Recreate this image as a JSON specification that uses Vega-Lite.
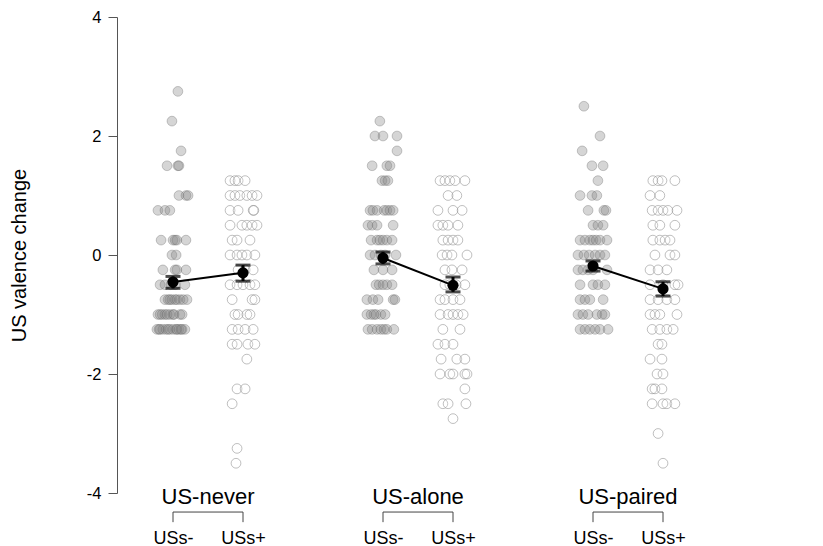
{
  "$schema": "https://vega.github.io/schema/vega-lite/v6.json",
  "width": 748,
  "height": 476,
  "autosize": {"type": "none"},
  "padding": {"left": 75, "top": 17, "right": 0, "bottom": 53},
  "background": "white",
  "config": {
    "font": "Liberation Sans",
    "view": {"stroke": null},
    "axis": {"labelFont": "Liberation Sans", "titleFont": "Liberation Sans", "grid": false},
    "scale": {"pointPadding": 0}
  },
  "datasets": {
    "pts": [
      {"k":"N-","v":2.75,"j":0.14},{"k":"N-","v":2.25,"j":-0.03},{"k":"N-","v":1.75,"j":0.23},
      {"k":"N-","v":1.5,"j":-0.17},{"k":"N-","v":1.5,"j":0.14},{"k":"N-","v":1.5,"j":0.17},
      {"k":"N-","v":1,"j":0.17},{"k":"N-","v":1,"j":0.37},{"k":"N-","v":1,"j":0.43},
      {"k":"N-","v":0.75,"j":-0.43},{"k":"N-","v":0.75,"j":-0.23},{"k":"N-","v":0.75,"j":-0.09},
      {"k":"N-","v":0.25,"j":-0.34},{"k":"N-","v":0.25,"j":0},{"k":"N-","v":0.25,"j":0.06},{"k":"N-","v":0.25,"j":0.11},{"k":"N-","v":0.25,"j":0.37},
      {"k":"N-","v":0,"j":-0.03},{"k":"N-","v":0,"j":0.09},
      {"k":"N-","v":-0.25,"j":-0.29},{"k":"N-","v":-0.25,"j":0.06},{"k":"N-","v":-0.25,"j":0.11},{"k":"N-","v":-0.25,"j":0.37},
      {"k":"N-","v":-0.5,"j":-0.37},{"k":"N-","v":-0.5,"j":-0.23},{"k":"N-","v":-0.5,"j":-0.06},{"k":"N-","v":-0.5,"j":0.06},{"k":"N-","v":-0.5,"j":0.34},
      {"k":"N-","v":-0.75,"j":-0.23},{"k":"N-","v":-0.75,"j":-0.14},{"k":"N-","v":-0.75,"j":-0.03},{"k":"N-","v":-0.75,"j":0.11},{"k":"N-","v":-0.75,"j":0.2},{"k":"N-","v":-0.75,"j":0.29},{"k":"N-","v":-0.75,"j":0.4},{"k":"N-","v":-0.75,"j":0.06},{"k":"N-","v":-0.75,"j":-0.09},
      {"k":"N-","v":-1,"j":-0.43},{"k":"N-","v":-1,"j":-0.31},{"k":"N-","v":-1,"j":-0.23},{"k":"N-","v":-1,"j":-0.09},{"k":"N-","v":-1,"j":0},{"k":"N-","v":-1,"j":0.2},{"k":"N-","v":-1,"j":0.26},{"k":"N-","v":-1,"j":-0.37},{"k":"N-","v":-1,"j":-0.17},{"k":"N-","v":-1,"j":0.03},
      {"k":"N-","v":-1.25,"j":-0.46},{"k":"N-","v":-1.25,"j":-0.37},{"k":"N-","v":-1.25,"j":-0.29},{"k":"N-","v":-1.25,"j":-0.2},{"k":"N-","v":-1.25,"j":-0.09},{"k":"N-","v":-1.25,"j":0},{"k":"N-","v":-1.25,"j":0.09},{"k":"N-","v":-1.25,"j":0.17},{"k":"N-","v":-1.25,"j":0.26},{"k":"N-","v":-1.25,"j":0.34},{"k":"N-","v":-1.25,"j":-0.4},{"k":"N-","v":-1.25,"j":-0.14},{"k":"N-","v":-1.25,"j":0.11},{"k":"N-","v":-1.25,"j":0.23},

      {"k":"N+","v":1.25,"j":-0.37},{"k":"N+","v":1.25,"j":-0.23},{"k":"N+","v":1.25,"j":-0.14},{"k":"N+","v":1.25,"j":0.06},
      {"k":"N+","v":1,"j":-0.37},{"k":"N+","v":1,"j":-0.23},{"k":"N+","v":1,"j":-0.09},{"k":"N+","v":1,"j":0.11},{"k":"N+","v":1,"j":0.26},{"k":"N+","v":1,"j":0.4},
      {"k":"N+","v":0.75,"j":-0.37},{"k":"N+","v":0.75,"j":-0.14},{"k":"N+","v":0.75,"j":0.29},{"k":"N+","v":0.75,"j":0.31},
      {"k":"N+","v":0.5,"j":-0.37},{"k":"N+","v":0.5,"j":-0.03},{"k":"N+","v":0.5,"j":0.11},{"k":"N+","v":0.5,"j":0.26},{"k":"N+","v":0.5,"j":0.4},
      {"k":"N+","v":0.25,"j":-0.31},{"k":"N+","v":0.25,"j":-0.17},{"k":"N+","v":0.25,"j":0.2},
      {"k":"N+","v":0,"j":-0.37},{"k":"N+","v":0,"j":-0.17},{"k":"N+","v":0,"j":-0.03},{"k":"N+","v":0,"j":0.11},{"k":"N+","v":0,"j":0.34},
      {"k":"N+","v":-0.25,"j":-0.14},{"k":"N+","v":-0.25,"j":0.06},{"k":"N+","v":-0.25,"j":0.29},
      {"k":"N+","v":-0.5,"j":-0.37},{"k":"N+","v":-0.5,"j":-0.17},{"k":"N+","v":-0.5,"j":0},{"k":"N+","v":-0.5,"j":0.2},{"k":"N+","v":-0.5,"j":0.34},
      {"k":"N+","v":-0.75,"j":-0.31},{"k":"N+","v":-0.75,"j":0.26},{"k":"N+","v":-0.75,"j":0.34},
      {"k":"N+","v":-1,"j":-0.23},{"k":"N+","v":-1,"j":-0.14},{"k":"N+","v":-1,"j":0.11},{"k":"N+","v":-1,"j":0.2},
      {"k":"N+","v":-1.25,"j":-0.31},{"k":"N+","v":-1.25,"j":-0.14},{"k":"N+","v":-1.25,"j":0.06},{"k":"N+","v":-1.25,"j":0.29},
      {"k":"N+","v":-1.5,"j":-0.31},{"k":"N+","v":-1.5,"j":-0.17},{"k":"N+","v":-1.5,"j":0.14},{"k":"N+","v":-1.5,"j":0.34},
      {"k":"N+","v":-1.75,"j":0.11},
      {"k":"N+","v":-2.25,"j":-0.17},{"k":"N+","v":-2.25,"j":0.06},
      {"k":"N+","v":-2.5,"j":-0.31},
      {"k":"N+","v":-3.25,"j":-0.17},
      {"k":"N+","v":-3.5,"j":-0.2},

      {"k":"A-","v":2.25,"j":-0.09},
      {"k":"A-","v":2,"j":-0.23},{"k":"A-","v":2,"j":0},{"k":"A-","v":2,"j":0.4},
      {"k":"A-","v":1.75,"j":0.4},
      {"k":"A-","v":1.5,"j":-0.31},{"k":"A-","v":1.5,"j":0.11},{"k":"A-","v":1.5,"j":0.2},
      {"k":"A-","v":1.25,"j":-0.03},{"k":"A-","v":1.25,"j":0.06},{"k":"A-","v":1.25,"j":0.14},
      {"k":"A-","v":0.75,"j":-0.37},{"k":"A-","v":0.75,"j":-0.29},{"k":"A-","v":0.75,"j":-0.17},{"k":"A-","v":0.75,"j":0.03},{"k":"A-","v":0.75,"j":0.11},{"k":"A-","v":0.75,"j":0.2},{"k":"A-","v":0.75,"j":0.29},
      {"k":"A-","v":0.5,"j":-0.43},{"k":"A-","v":0.5,"j":-0.31},{"k":"A-","v":0.5,"j":-0.17},{"k":"A-","v":0.5,"j":0.29},
      {"k":"A-","v":0.25,"j":-0.34},{"k":"A-","v":0.25,"j":-0.17},{"k":"A-","v":0.25,"j":-0.09},{"k":"A-","v":0.25,"j":0},{"k":"A-","v":0.25,"j":0.11},{"k":"A-","v":0.25,"j":0.26},
      {"k":"A-","v":0,"j":-0.37},{"k":"A-","v":0,"j":-0.23},{"k":"A-","v":0,"j":-0.06},{"k":"A-","v":0,"j":0.06},{"k":"A-","v":0,"j":0.37},
      {"k":"A-","v":-0.25,"j":-0.26},{"k":"A-","v":-0.25,"j":0},{"k":"A-","v":-0.25,"j":0.26},
      {"k":"A-","v":-0.5,"j":-0.2},{"k":"A-","v":-0.5,"j":-0.11},{"k":"A-","v":-0.5,"j":0},{"k":"A-","v":-0.5,"j":0.11},{"k":"A-","v":-0.5,"j":0.26},
      {"k":"A-","v":-0.75,"j":-0.46},{"k":"A-","v":-0.75,"j":-0.29},{"k":"A-","v":-0.75,"j":-0.14},{"k":"A-","v":-0.75,"j":0.29},{"k":"A-","v":-0.75,"j":0.34},
      {"k":"A-","v":-1,"j":-0.46},{"k":"A-","v":-1,"j":-0.34},{"k":"A-","v":-1,"j":-0.2},{"k":"A-","v":-1,"j":-0.06},{"k":"A-","v":-1,"j":0.06},{"k":"A-","v":-1,"j":-0.26},
      {"k":"A-","v":-1.25,"j":-0.43},{"k":"A-","v":-1.25,"j":-0.31},{"k":"A-","v":-1.25,"j":-0.17},{"k":"A-","v":-1.25,"j":-0.06},{"k":"A-","v":-1.25,"j":0.03},{"k":"A-","v":-1.25,"j":0.11},{"k":"A-","v":-1.25,"j":0.31},

      {"k":"A+","v":1.25,"j":-0.37},{"k":"A+","v":1.25,"j":-0.23},{"k":"A+","v":1.25,"j":-0.09},{"k":"A+","v":1.25,"j":0.06},{"k":"A+","v":1.25,"j":0.34},
      {"k":"A+","v":1,"j":-0.14},{"k":"A+","v":1,"j":0.11},
      {"k":"A+","v":0.75,"j":-0.43},{"k":"A+","v":0.75,"j":0},{"k":"A+","v":0.75,"j":0.26},
      {"k":"A+","v":0.5,"j":-0.43},{"k":"A+","v":0.5,"j":-0.29},{"k":"A+","v":0.5,"j":-0.14},{"k":"A+","v":0.5,"j":0.14},
      {"k":"A+","v":0.25,"j":-0.29},{"k":"A+","v":0.25,"j":-0.14},{"k":"A+","v":0.25,"j":0},{"k":"A+","v":0.25,"j":0.14},
      {"k":"A+","v":0,"j":-0.31},{"k":"A+","v":0,"j":-0.17},{"k":"A+","v":0,"j":-0.03},{"k":"A+","v":0,"j":0.4},
      {"k":"A+","v":-0.25,"j":-0.23},{"k":"A+","v":-0.25,"j":-0.03},{"k":"A+","v":-0.25,"j":0.26},
      {"k":"A+","v":-0.5,"j":-0.23},{"k":"A+","v":-0.5,"j":-0.09},{"k":"A+","v":-0.5,"j":0.09},{"k":"A+","v":-0.5,"j":0.34},
      {"k":"A+","v":-0.75,"j":-0.37},{"k":"A+","v":-0.75,"j":-0.23},{"k":"A+","v":-0.75,"j":0},{"k":"A+","v":-0.75,"j":0.2},
      {"k":"A+","v":-1,"j":-0.37},{"k":"A+","v":-1,"j":-0.14},{"k":"A+","v":-1,"j":0},{"k":"A+","v":-1,"j":0.14},{"k":"A+","v":-1,"j":0.29},
      {"k":"A+","v":-1.25,"j":-0.29},{"k":"A+","v":-1.25,"j":0.2},
      {"k":"A+","v":-1.5,"j":-0.43},{"k":"A+","v":-1.5,"j":-0.23},{"k":"A+","v":-1.5,"j":0},
      {"k":"A+","v":-1.75,"j":-0.34},{"k":"A+","v":-1.75,"j":0.11},{"k":"A+","v":-1.75,"j":0.34},
      {"k":"A+","v":-2,"j":-0.37},{"k":"A+","v":-2,"j":-0.09},{"k":"A+","v":-2,"j":0},{"k":"A+","v":-2,"j":0.34},{"k":"A+","v":-2,"j":0.4},
      {"k":"A+","v":-2.25,"j":0.34},
      {"k":"A+","v":-2.5,"j":-0.29},{"k":"A+","v":-2.5,"j":-0.14},{"k":"A+","v":-2.5,"j":0.37},
      {"k":"A+","v":-2.75,"j":0},

      {"k":"P-","v":2.5,"j":-0.26},
      {"k":"P-","v":2,"j":0.2},
      {"k":"P-","v":1.75,"j":-0.31},
      {"k":"P-","v":1.5,"j":-0.03},{"k":"P-","v":1.5,"j":0.29},
      {"k":"P-","v":1.25,"j":0.14},
      {"k":"P-","v":1,"j":-0.37},{"k":"P-","v":1,"j":-0.03},{"k":"P-","v":1,"j":0.11},
      {"k":"P-","v":0.75,"j":-0.14},{"k":"P-","v":0.75,"j":0.31},{"k":"P-","v":0.75,"j":0.37},
      {"k":"P-","v":0.5,"j":0},{"k":"P-","v":0.5,"j":0.14},{"k":"P-","v":0.5,"j":0.29},
      {"k":"P-","v":0.25,"j":-0.37},{"k":"P-","v":0.25,"j":-0.23},{"k":"P-","v":0.25,"j":-0.09},{"k":"P-","v":0.25,"j":0},{"k":"P-","v":0.25,"j":0.09},{"k":"P-","v":0.25,"j":0.2},{"k":"P-","v":0.25,"j":0.4},
      {"k":"P-","v":0,"j":-0.43},{"k":"P-","v":0,"j":-0.26},{"k":"P-","v":0,"j":-0.11},{"k":"P-","v":0,"j":0.06},{"k":"P-","v":0,"j":0.2},{"k":"P-","v":0,"j":0.34},
      {"k":"P-","v":-0.25,"j":-0.43},{"k":"P-","v":-0.25,"j":-0.29},{"k":"P-","v":-0.25,"j":-0.14},{"k":"P-","v":-0.25,"j":0},{"k":"P-","v":-0.25,"j":0.4},
      {"k":"P-","v":-0.5,"j":-0.37},{"k":"P-","v":-0.5,"j":0},{"k":"P-","v":-0.5,"j":0.14},{"k":"P-","v":-0.5,"j":0.34},
      {"k":"P-","v":-0.75,"j":-0.37},{"k":"P-","v":-0.75,"j":-0.23},{"k":"P-","v":-0.75,"j":-0.09},{"k":"P-","v":-0.75,"j":0.29},
      {"k":"P-","v":-1,"j":-0.43},{"k":"P-","v":-1,"j":-0.29},{"k":"P-","v":-1,"j":-0.14},{"k":"P-","v":-1,"j":0.11},{"k":"P-","v":-1,"j":0.26},{"k":"P-","v":-1,"j":0.34},
      {"k":"P-","v":-1.25,"j":-0.37},{"k":"P-","v":-1.25,"j":-0.23},{"k":"P-","v":-1.25,"j":-0.09},{"k":"P-","v":-1.25,"j":0.06},{"k":"P-","v":-1.25,"j":0.2},{"k":"P-","v":-1.25,"j":0.43},

      {"k":"P+","v":1.25,"j":-0.29},{"k":"P+","v":1.25,"j":-0.14},{"k":"P+","v":1.25,"j":-0.03},{"k":"P+","v":1.25,"j":0.34},
      {"k":"P+","v":1,"j":-0.37},{"k":"P+","v":1,"j":-0.09},
      {"k":"P+","v":0.75,"j":-0.31},{"k":"P+","v":0.75,"j":-0.14},{"k":"P+","v":0.75,"j":0},{"k":"P+","v":0.75,"j":0.14},{"k":"P+","v":0.75,"j":0.4},
      {"k":"P+","v":0.5,"j":-0.29},{"k":"P+","v":0.5,"j":-0.09},{"k":"P+","v":0.5,"j":0.34},
      {"k":"P+","v":0.25,"j":-0.29},{"k":"P+","v":0.25,"j":-0.09},{"k":"P+","v":0.25,"j":0.06},{"k":"P+","v":0.25,"j":0.2},
      {"k":"P+","v":0,"j":-0.23},{"k":"P+","v":0,"j":0.2},{"k":"P+","v":0,"j":0.34},
      {"k":"P+","v":-0.25,"j":-0.37},{"k":"P+","v":-0.25,"j":-0.14},{"k":"P+","v":-0.25,"j":0.11},
      {"k":"P+","v":-0.5,"j":-0.37},{"k":"P+","v":-0.5,"j":0},{"k":"P+","v":-0.5,"j":0.34},{"k":"P+","v":-0.5,"j":0.43},
      {"k":"P+","v":-0.75,"j":-0.37},{"k":"P+","v":-0.75,"j":-0.14},{"k":"P+","v":-0.75,"j":0.11},{"k":"P+","v":-0.75,"j":0.34},
      {"k":"P+","v":-1,"j":-0.37},{"k":"P+","v":-1,"j":-0.23},{"k":"P+","v":-1,"j":-0.09},{"k":"P+","v":-1,"j":0.4},
      {"k":"P+","v":-1.25,"j":-0.31},{"k":"P+","v":-1.25,"j":-0.09},{"k":"P+","v":-1.25,"j":0.11},{"k":"P+","v":-1.25,"j":0.29},
      {"k":"P+","v":-1.5,"j":-0.14},{"k":"P+","v":-1.5,"j":-0.03},
      {"k":"P+","v":-1.75,"j":-0.37},{"k":"P+","v":-1.75,"j":-0.03},
      {"k":"P+","v":-2,"j":-0.17},{"k":"P+","v":-2,"j":0},
      {"k":"P+","v":-2.25,"j":-0.31},{"k":"P+","v":-2.25,"j":-0.23},{"k":"P+","v":-2.25,"j":-0.03},
      {"k":"P+","v":-2.5,"j":-0.31},{"k":"P+","v":-2.5,"j":0},{"k":"P+","v":-2.5,"j":0.11},{"k":"P+","v":-2.5,"j":0.34},
      {"k":"P+","v":-3,"j":-0.14},
      {"k":"P+","v":-3.5,"j":0}
    ],
    "means": [
      {"k":"N-","g":"US-never","m":-0.455,"lo":-0.56,"hi":-0.36},
      {"k":"N+","g":"US-never","m":-0.30,"lo":-0.44,"hi":-0.17},
      {"k":"A-","g":"US-alone","m":-0.05,"lo":-0.15,"hi":0.05},
      {"k":"A+","g":"US-alone","m":-0.51,"lo":-0.62,"hi":-0.37},
      {"k":"P-","g":"US-paired","m":-0.185,"lo":-0.27,"hi":-0.10},
      {"k":"P+","g":"US-paired","m":-0.57,"lo":-0.69,"hi":-0.45}
    ],
    "groups": [
      {"k":"N","k2":"N-","k3":"N+","t":"US-never"},
      {"k":"A","k2":"A-","k3":"A+","t":"US-alone"},
      {"k":"P","k2":"P-","k3":"P+","t":"US-paired"}
    ]
  },
  "layer": [
    {
      "data": {"name": "pts"},
      "transform": [{"filter": "indexof(datum.k, '-') >= 0"}],
      "mark": {"type": "circle", "size": 95, "fill": "#888888", "fillOpacity": 0.35, "stroke": "#666666", "strokeOpacity": 0.35, "strokeWidth": 1},
      "encoding": {
        "x": {"field": "k", "type": "nominal", "scale": {"type": "point", "padding": 0, "domain": ["N-","N","N+","g1","g2","g3","A-","A","A+","g4","g5","g6","P-","P","P+"], "range": [98, 588]},
              "axis": {"values": ["N-","N+","A-","A+","P-","P+"], "labelExpr": "indexof(datum.value, '-') >= 0 ? 'USs-' : 'USs+'", "domain": false, "ticks": false, "tickSize": 0, "labelPadding": 50, "labelBaseline": "alphabetic", "labelFontSize": 18, "labelColor": "#000000", "labelAngle": 0, "title": null}},
        "xOffset": {"field": "j", "type": "quantitative", "scale": {"domain": [-1, 1], "range": [-35, 35]}},
        "y": {"field": "v", "type": "quantitative", "scale": {"domain": [-4, 4], "nice": false, "zero": false},
              "axis": {"values": [-4, -2, 0, 2, 4], "labelExpr": "datum.value + ''", "offset": -42, "tickSize": 9, "labelPadding": 7, "labelFontSize": 16.5, "labelColor": "#000000", "labelFlush": false, "labelOverlap": false, "domainColor": "#555555", "tickColor": "#555555", "title": "US valence change", "titleFontSize": 20, "titleFontWeight": "normal", "titleColor": "#000000", "titlePadding": 57}}
      }
    },
    {
      "data": {"name": "pts"},
      "transform": [{"filter": "indexof(datum.k, '+') >= 0"}],
      "mark": {"type": "circle", "size": 95, "fill": "#ffffff", "fillOpacity": 0.15, "stroke": "#8a8a8a", "strokeOpacity": 0.55, "strokeWidth": 1},
      "encoding": {
        "x": {"field": "k", "type": "nominal", "scale": {"type": "point", "padding": 0, "domain": ["N-","N","N+","g1","g2","g3","A-","A","A+","g4","g5","g6","P-","P","P+"], "range": [98, 588]}},
        "xOffset": {"field": "j", "type": "quantitative", "scale": {"domain": [-1, 1], "range": [-35, 35]}},
        "y": {"field": "v", "type": "quantitative", "scale": {"domain": [-4, 4], "nice": false, "zero": false}}
      }
    },
    {
      "mark": {"type": "rule", "color": "#222222", "strokeDash": [4, 3], "strokeWidth": 1},
      "encoding": {
        "y": {"datum": 0, "type": "quantitative", "scale": {"domain": [-4, 4], "nice": false, "zero": false}}
      }
    },
    {
      "data": {"name": "means"},
      "mark": {"type": "line", "color": "#000000", "strokeWidth": 2},
      "encoding": {
        "x": {"field": "k", "type": "nominal", "scale": {"type": "point", "padding": 0, "domain": ["N-","N","N+","g1","g2","g3","A-","A","A+","g4","g5","g6","P-","P","P+"], "range": [98, 588]}},
        "y": {"field": "m", "type": "quantitative", "scale": {"domain": [-4, 4], "nice": false, "zero": false}},
        "detail": {"field": "g"}
      }
    },
    {
      "data": {"name": "means"},
      "mark": {"type": "rule", "color": "#000000", "strokeWidth": 3},
      "encoding": {
        "x": {"field": "k", "type": "nominal", "scale": {"type": "point", "padding": 0, "domain": ["N-","N","N+","g1","g2","g3","A-","A","A+","g4","g5","g6","P-","P","P+"], "range": [98, 588]}},
        "y": {"field": "lo", "type": "quantitative", "scale": {"domain": [-4, 4], "nice": false, "zero": false}},
        "y2": {"field": "hi"}
      }
    },
    {
      "data": {"name": "means"},
      "mark": {"type": "tick", "orient": "horizontal", "color": "#000000", "size": 15, "thickness": 3},
      "encoding": {
        "x": {"field": "k", "type": "nominal", "scale": {"type": "point", "padding": 0, "domain": ["N-","N","N+","g1","g2","g3","A-","A","A+","g4","g5","g6","P-","P","P+"], "range": [98, 588]}},
        "y": {"field": "lo", "type": "quantitative", "scale": {"domain": [-4, 4], "nice": false, "zero": false}}
      }
    },
    {
      "data": {"name": "means"},
      "mark": {"type": "tick", "orient": "horizontal", "color": "#000000", "size": 15, "thickness": 3},
      "encoding": {
        "x": {"field": "k", "type": "nominal", "scale": {"type": "point", "padding": 0, "domain": ["N-","N","N+","g1","g2","g3","A-","A","A+","g4","g5","g6","P-","P","P+"], "range": [98, 588]}},
        "y": {"field": "hi", "type": "quantitative", "scale": {"domain": [-4, 4], "nice": false, "zero": false}}
      }
    },
    {
      "data": {"name": "means"},
      "mark": {"type": "circle", "size": 125, "color": "#000000", "opacity": 1},
      "encoding": {
        "x": {"field": "k", "type": "nominal", "scale": {"type": "point", "padding": 0, "domain": ["N-","N","N+","g1","g2","g3","A-","A","A+","g4","g5","g6","P-","P","P+"], "range": [98, 588]}},
        "y": {"field": "m", "type": "quantitative", "scale": {"domain": [-4, 4], "nice": false, "zero": false}}
      }
    },
    {
      "data": {"name": "groups"},
      "mark": {"type": "rule", "color": "#444444", "strokeWidth": 1},
      "encoding": {
        "x": {"field": "k2", "type": "nominal", "scale": {"type": "point", "padding": 0, "domain": ["N-","N","N+","g1","g2","g3","A-","A","A+","g4","g5","g6","P-","P","P+"], "range": [98, 588]}},
        "x2": {"field": "k3"},
        "y": {"datum": -4.32, "type": "quantitative", "scale": {"domain": [-4, 4], "nice": false, "zero": false}}
      }
    },
    {
      "data": {"name": "means"},
      "mark": {"type": "rule", "color": "#444444", "strokeWidth": 1},
      "encoding": {
        "x": {"field": "k", "type": "nominal", "scale": {"type": "point", "padding": 0, "domain": ["N-","N","N+","g1","g2","g3","A-","A","A+","g4","g5","g6","P-","P","P+"], "range": [98, 588]}},
        "y": {"datum": -4.32, "type": "quantitative", "scale": {"domain": [-4, 4], "nice": false, "zero": false}},
        "y2": {"datum": -4.49}
      }
    },
    {
      "data": {"name": "groups"},
      "mark": {"type": "text", "fontSize": 22, "align": "center", "baseline": "alphabetic", "color": "#000000"},
      "encoding": {
        "x": {"field": "k", "type": "nominal", "scale": {"type": "point", "padding": 0, "domain": ["N-","N","N+","g1","g2","g3","A-","A","A+","g4","g5","g6","P-","P","P+"], "range": [98, 588]}},
        "y": {"datum": -4.185, "type": "quantitative", "scale": {"domain": [-4, 4], "nice": false, "zero": false}},
        "text": {"field": "t"}
      }
    }
  ]
}
